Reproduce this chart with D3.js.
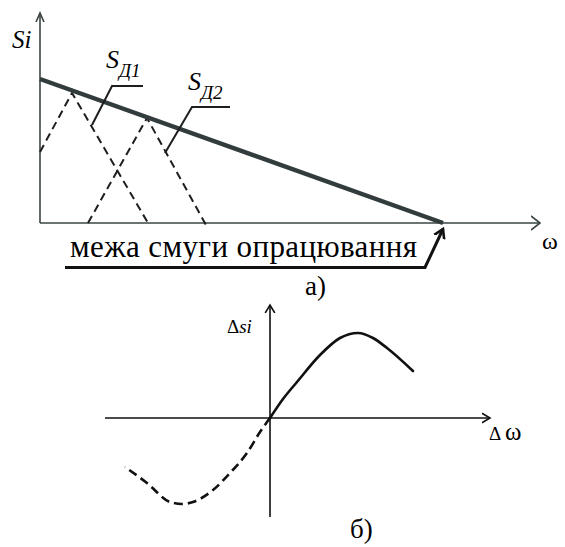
<!DOCTYPE html>
<html>
<head>
<meta charset="utf-8">
<script src="https://cdn.jsdelivr.net/npm/d3@7"></script>
</head>
<body style="margin:0">
<svg id="s" width="565" height="547"></svg>
<script>
// ---- Panel a): detector characteristics vs. frequency ----
const omegaDomain = [0, 50];
const siDomain = [0, 21];
const processingLimit = [[0, 14.4], [40.3, 0]];            // boundary of the processing band
const detector1 = [[0, 7.1], [3.2, 13.0], [10.8, 0]];      // S_Д1
const detector2 = [[4.8, 0], [10.7, 10.5], [16.6, -0.2]];   // S_Д2
const leader1 = [[5.2, 9.8], [7.2, 13.7], [10.3, 13.7]];
const leader2 = [[12.5, 7.0], [15.2, 11.6], [19.0, 11.6]];
const pointer = [[2.5, -4.45], [38.5, -4.45], [40.3, -0.6]];
const detectorLabels = [
  { name: "S", sub: "Д1", at: [6.6, 15.5] },
  { name: "S", sub: "Д2", at: [14.8, 13.3] }
];
const bandLabel = { text: "межа смуги опрацювання", at: [3.0, -3.4], to: 37.7 };

// ---- Panel б): discriminator curve ----
const dOmegaDomain = [-8.25, 11];
const dSiDomain = [-4.95, 5.65];
const curvePositive = [[0, 0], [0.65, 0.95], [1.35, 1.8], [2.5, 3.15], [3.5, 4.0],
                       [4.4, 4.25], [5.15, 4.0], [5.85, 3.5], [7.15, 2.35]];
const curveNegative = [[0, 0], [-0.5, -0.7], [-1.15, -1.75], [-2.0, -2.75], [-2.85, -3.6],
                       [-3.85, -4.2], [-4.4, -4.3], [-5.0, -4.2], [-6.15, -3.25], [-7.25, -2.45]];

const svg = d3.select("#s");
const AX = "#3a4444";

// arrowhead markers
const defs = svg.append("defs");
function marker(id, len, half, color, w) {
  defs.append("marker")
    .attr("id", id).attr("markerUnits", "userSpaceOnUse")
    .attr("viewBox", `0 ${-half - 2} ${len + 2} ${2 * half + 4}`)
    .attr("refX", len).attr("refY", 0)
    .attr("markerWidth", len + 2).attr("markerHeight", 2 * half + 4)
    .attr("orient", "auto")
    .append("path").attr("d", `M0,${-half}L${len},0L0,${half}`)
    .attr("fill", "none").attr("stroke", color).attr("stroke-width", w)
    .attr("stroke-linejoin", "miter");
}
marker("arrX", 9, 7, AX, 1.6);
marker("arrY", 9, 4, AX, 1.6);
marker("arrP", 9, 5.5, "#111", 2.6);
marker("arrB", 8, 4.8, "#111", 1.6);

// captions in a serif face, set through the font shorthand
function label(x, y, size, italic) {
  return svg.append("text").attr("x", x).attr("y", y)
    .attr("font-family", "Times New Roman")
    .style("font", `${italic ? "italic " : ""}${size}px "Times New Roman"`);
}

// ---------- panel a ----------
const xA = d3.scaleLinear().domain(omegaDomain).range([40, 540]);
const yA = d3.scaleLinear().domain(siDomain).range([223, 13]);
const lineA = d3.line().x(d => xA(d[0])).y(d => yA(d[1]));

const gA = svg.append("g");
gA.append("line").attr("x1", xA(0)).attr("y1", yA(0)).attr("x2", xA(omegaDomain[1])).attr("y2", yA(0))
  .attr("stroke", AX).attr("stroke-width", 1.6).attr("marker-end", "url(#arrX)");
gA.append("line").attr("x1", xA(0)).attr("y1", yA(0)).attr("x2", xA(0)).attr("y2", yA(siDomain[1]))
  .attr("stroke", AX).attr("stroke-width", 1.6).attr("marker-end", "url(#arrY)");

[detector1, detector2].forEach(d => {
  gA.append("path").attr("d", lineA(d)).attr("fill", "none")
    .attr("stroke", "#1e1e1e").attr("stroke-width", 2).attr("stroke-dasharray", "8,5");
});
gA.append("path").attr("d", lineA(processingLimit)).attr("fill", "none")
  .attr("stroke", "#323c3c").attr("stroke-width", 4.5).attr("stroke-linecap", "butt");

[leader1, leader2].forEach(d => {
  gA.append("path").attr("d", lineA(d)).attr("fill", "none")
    .attr("stroke", "#1e1e1e").attr("stroke-width", 2);
});

gA.append("path").attr("d", lineA(pointer)).attr("fill", "none")
  .attr("stroke", "#111").attr("stroke-width", 3).attr("stroke-linejoin", "miter")
  .attr("marker-end", "url(#arrP)");

detectorLabels.forEach(l => {
  const t = label(xA(l.at[0]), yA(l.at[1]), 26, true);
  t.append("tspan").text(l.name);
  t.append("tspan").style("font-size", "19px").attr("dy", 9).text(l.sub);
});

label(xA(-2.8), yA(17.5), 25, true).text("Si");
label(xA(50.2), yA(-2.6), 24).text("ω");

label(xA(bandLabel.at[0]), yA(bandLabel.at[1]), 31)
  .attr("textLength", xA(bandLabel.to) - xA(bandLabel.at[0]))
  .attr("lengthAdjust", "spacing")
  .text(bandLabel.text);

label(xA(26.5), yA(-7.2), 27).text("а)");

// ---------- panel б ----------
const xB = d3.scaleLinear().domain(dOmegaDomain).range([105, 490]);
const yB = d3.scaleLinear().domain(dSiDomain).range([517, 305]);
const lineB = d3.line().x(d => xB(d[0])).y(d => yB(d[1])).curve(d3.curveMonotoneX);

const gB = svg.append("g");
gB.append("line").attr("x1", xB(dOmegaDomain[0])).attr("y1", yB(0)).attr("x2", xB(dOmegaDomain[1])).attr("y2", yB(0))
  .attr("stroke", "#111").attr("stroke-width", 1.6).attr("marker-end", "url(#arrB)");
gB.append("line").attr("x1", xB(0)).attr("y1", yB(dSiDomain[0])).attr("x2", xB(0)).attr("y2", yB(dSiDomain[1]))
  .attr("stroke", "#111").attr("stroke-width", 1.6).attr("marker-end", "url(#arrB)");

gB.append("path").attr("d", lineB(curvePositive)).attr("fill", "none")
  .attr("stroke", "#111").attr("stroke-width", 2.6).attr("stroke-linecap", "round");
gB.append("path").attr("d", lineB(curveNegative)).attr("fill", "none")
  .attr("stroke", "#111").attr("stroke-width", 2.6).attr("stroke-dasharray", "9,5");

const lblSi = label(xB(-2.15), yB(4.25), 19);
lblSi.append("tspan").text("Δ");
lblSi.append("tspan").style("font-style", "italic").text("si");

const lblW = label(xB(10.95), yB(-1.1), 19);
lblW.append("tspan").text("Δ ");
lblW.append("tspan").style("font-size", "25px").text("ω");

label(xB(4.0), yB(-6.0), 27).text("б)");
</script>
</body>
</html>
